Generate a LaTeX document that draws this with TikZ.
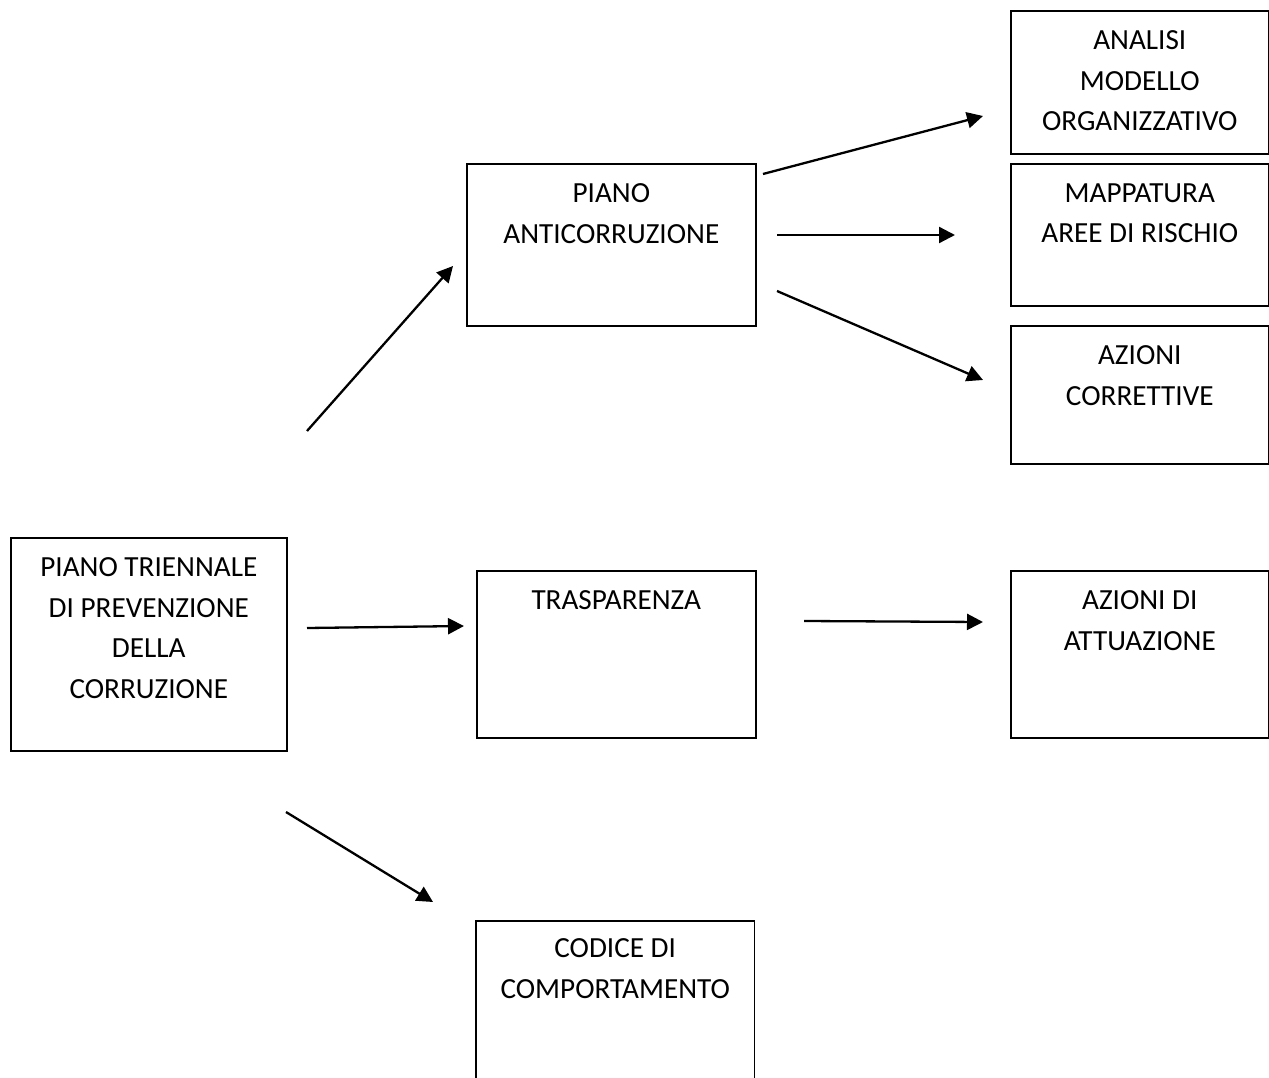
\documentclass[tikz,border=0pt]{standalone}
\usepackage{fontspec}
\setmainfont{Carlito}
\usetikzlibrary{arrows.meta}
\tikzset{
  box/.style={draw, line width=1.6pt, inner sep=0pt, anchor=north west},
  txt/.style={inner sep=0pt, align=center, anchor=north, font=\fontsize{29.2}{40.5}\selectfont},
  arr/.style={line width=2.3pt, -{Triangle[length=16pt,width=16pt]}},
}
\newcommand{\mybox}[6]{% name, x1, y1, x2, y2, text
  \node[box, minimum width={#4-#2}, minimum height={#5-#3}] (#1) at (#2,#3) {};
  \node[txt] (#1t) at ([yshift=-20.5pt]#1.north) {#6};
}
\begin{document}
\begin{tikzpicture}[x=1pt,y=-1pt]
\useasboundingbox (0,0) rectangle (1269,1078);
\fill[white] (0,0) rectangle (1269,1078);
\mybox{analisi}{1010}{10}{1268}{153}{ANALISI\\MODELLO\\ORGANIZZATIVO}
\mybox{mappa}{1010}{163}{1268}{305}{MAPPATURA\\AREE DI RISCHIO}
\mybox{corr}{1010}{325}{1268}{463}{AZIONI\\CORRETTIVE}
\mybox{anti}{466}{163}{755}{325}{PIANO\\ANTICORRUZIONE}
\mybox{trien}{10}{537}{286}{750}{PIANO TRIENNALE\\DI PREVENZIONE\\DELLA\\CORRUZIONE}
\mybox{trasp}{476}{570}{755}{737}{TRASPARENZA}
\mybox{attua}{1010}{570}{1268}{737}{AZIONI DI\\ATTUAZIONE}
% bottom box, cut off at the lower edge
\node[inner sep=0pt, minimum width=278pt, minimum height=157pt, anchor=north west] (codice) at (476,921) {};
\draw[line width=1.6pt] (codice.south west) -- (codice.north west) -- (codice.north east) -- (codice.south east);
\node[txt] (codicet) at ([yshift=-17.5pt]codice.north) {CODICE DI\\COMPORTAMENTO};
% connector end points
\coordinate (a1s) at (307,431);  \coordinate (a1e) at (453,266);
\coordinate (a2s) at (763,174);  \coordinate (a2e) at (983,116);
\coordinate (a3s) at (777,235);  \coordinate (a3e) at (955,235);
\coordinate (a4s) at (777,291);  \coordinate (a4e) at (983,380);
\coordinate (a5s) at (307,628);  \coordinate (a5e) at (464,626);
\coordinate (a6s) at (804,621);  \coordinate (a6e) at (983,622);
\coordinate (a7s) at (286,812);  \coordinate (a7e) at (433,902);
\draw[arr] (a1s) -- (a1e);
\draw[arr] (a2s) -- (a2e);
\draw[arr] (a3s) -- (a3e);
\draw[arr] (a4s) -- (a4e);
\draw[arr] (a5s) -- (a5e);
\draw[arr] (a6s) -- (a6e);
\draw[arr] (a7s) -- (a7e);
\end{tikzpicture}
\end{document}
